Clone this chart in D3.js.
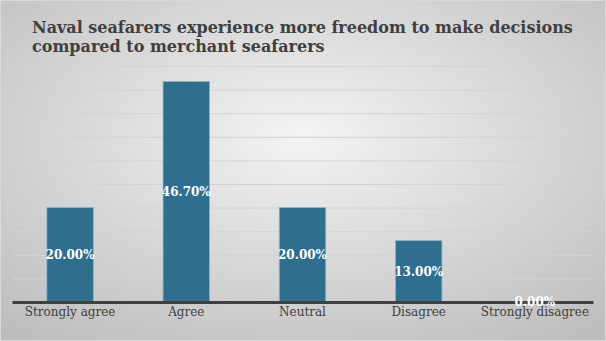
<!DOCTYPE html>
<html><head><meta charset="utf-8">
<script src="https://cdn.jsdelivr.net/npm/d3@7"></script>
<style>html,body{margin:0;padding:0;overflow:hidden;}svg{display:block;}</style>
</head><body>
<svg id="c" width="606" height="341"></svg>
<script>
const titleLines = ["Naval seafarers experience more freedom to make decisions", "compared to merchant seafarers"];
const categories = ["Strongly agree", "Agree", "Neutral", "Disagree", "Strongly disagree"];
const values = [20.0, 46.7, 20.0, 13.0, 0.0];
const valueLabels = ["20.00%", "46.70%", "20.00%", "13.00%", "0.00%"];
const gridTicks = [0, 5, 10, 15, 20, 25, 30, 35, 40, 45, 50];

const W = 606, H = 341;
const svg = d3.select("#c");
const defs = svg.append("defs");
const rg = defs.append("radialGradient").attr("id","bg").attr("cx","50%").attr("cy","40%").attr("r","75%");
rg.append("stop").attr("offset","0%").attr("stop-color","#f3f3f3");
rg.append("stop").attr("offset","100%").attr("stop-color","#bdbdbd");
svg.append("rect").attr("x",0).attr("y",0).attr("width",W).attr("height",H).attr("fill","url(#bg)");
svg.append("rect").attr("x",0.5).attr("y",0.5).attr("width",W-1).attr("height",H-1).attr("fill","none").attr("stroke","#d9d9d9");

const margin = {left: 12, right: 13, top: 66, bottom: 39};
const x = d3.scaleBand().domain(categories).range([margin.left, W - margin.right]).padding(0);
const y = d3.scaleLinear().domain([0, 50]).range([302, 66]);

// gridlines
svg.append("g").selectAll("line").data(gridTicks.slice(1)).join("line")
  .attr("x1", margin.left).attr("x2", W - margin.right)
  .attr("y1", d => y(d) + 0.5).attr("y2", d => y(d) + 0.5)
  .attr("stroke", "#d3d3d3").attr("stroke-width", 1);

// title
svg.append("text").attr("x", 32).attr("y", 33)
  .attr("font-family", "DejaVu Serif").attr("font-weight", "bold").attr("font-size", 16).attr("fill", "#404040")
  .selectAll("tspan").data(titleLines).join("tspan")
  .attr("x", 32).attr("dy", (d, i) => i === 0 ? 0 : 19).text(d => d);

// bars
const bw = x.bandwidth() * 0.4;
svg.append("g").selectAll("rect").data(values).join("rect")
  .attr("x", (d, i) => x(categories[i]) + (x.bandwidth() - bw) / 2)
  .attr("y", d => y(d))
  .attr("width", bw)
  .attr("height", d => y(0) - y(d))
  .attr("fill", "#2f6f8d")
  .attr("stroke", "#8fb2c2").attr("stroke-width", 0.8);

// axis
const axis = svg.append("g").attr("transform", `translate(0,${y(0)})`)
  .call(d3.axisBottom(x).tickSize(0).tickPadding(5));
axis.select(".domain").attr("stroke", "#404040").attr("stroke-width", 3);
axis.selectAll("text").attr("font-family", "DejaVu Serif").attr("font-size", 12).attr("fill", "#404040");

// value labels
svg.append("g").selectAll("text").data(values).join("text")
  .attr("x", (d, i) => x(categories[i]) + x.bandwidth() / 2)
  .attr("y", d => (y(d) + y(0)) / 2)
  .attr("dy", "0.35em")
  .attr("text-anchor", "middle")
  .attr("font-family", "DejaVu Serif").attr("font-weight", "bold").attr("font-size", 12)
  .attr("fill", "#ffffff")
  .text((d, i) => valueLabels[i]);
</script>
</body></html>
